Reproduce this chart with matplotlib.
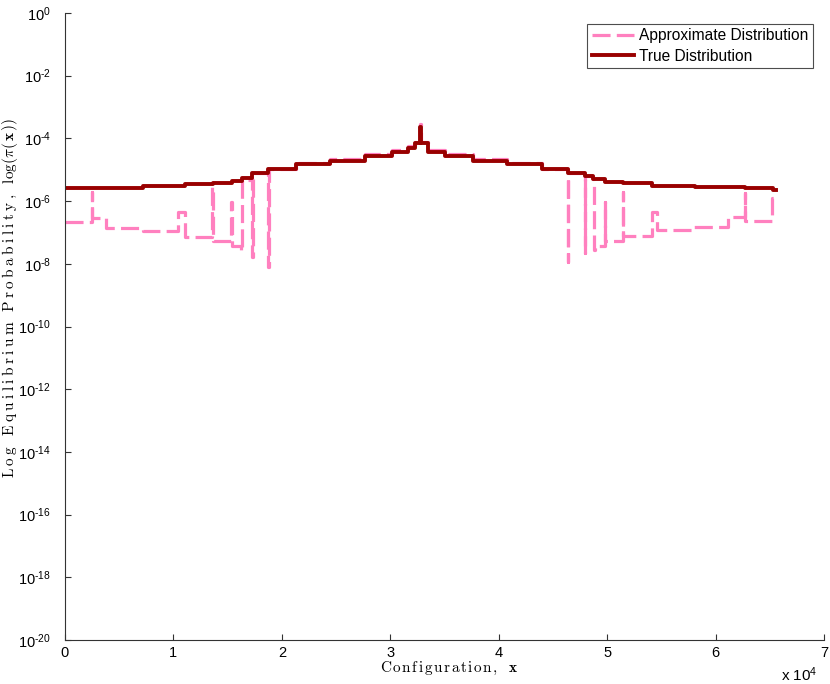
import numpy as np
import matplotlib
matplotlib.use("Agg")
import matplotlib.pyplot as plt
from matplotlib.ticker import FixedLocator, FuncFormatter, NullLocator

plt.rcParams['font.family'] = ['Liberation Sans', 'DejaVu Sans']
plt.rcParams['mathtext.fontset'] = 'custom'
plt.rcParams['mathtext.rm'] = 'Liberation Sans'
plt.rcParams['mathtext.it'] = 'Liberation Sans:italic'
plt.rcParams['mathtext.bf'] = 'Liberation Sans:bold'
plt.rcParams['lines.scale_dashes'] = False

# true distribution: bin edges (configuration index) and log10 probability per bin
true_edges = [0, 7194, 11067, 13650, 15400, 16320, 17250, 18720, 21300, 24440,
              27670, 30160, 31630, 32280, 32700, 32840, 33480, 35050, 37630,
              40760, 44000, 46390, 47960, 48700, 49800, 51460, 54140, 58100,
              62710, 65300, 65536]
true_log = [-5.57, -5.51, -5.45, -5.41, -5.35, -5.25, -5.11, -4.99, -4.83, -4.71,
            -4.56, -4.42, -4.30, -4.16, -3.64, -4.15, -4.42, -4.56, -4.71,
            -4.83, -4.98, -5.09, -5.20, -5.30, -5.38, -5.43, -5.51, -5.54,
            -5.57, -5.65]

# approximate distribution: bin edges and log10 probability per bin
approx_edges = [0, 2450, 2530, 3780, 7150, 10420, 11067, 13560, 13640, 15330,
                15410, 16190, 16300, 16320, 17150, 17250, 17320, 18720, 18790,
                21300, 24440, 27670, 30160, 31630, 32280, 32700, 32840, 33480,
                35050, 37630, 40760, 44000, 46350, 46430, 47920, 48000, 48700,
                48830, 48900, 49760, 49840, 51420, 51500, 54140, 54640, 57920,
                61100, 62670, 62750, 65200, 65536]
approx_log = [-6.66, -5.70, -6.53, -6.85, -6.95, -6.35, -7.14, -5.54, -7.27,
              -6.02, -7.43, -7.59, -5.33, -5.33, -5.25, -7.77, -5.11, -8.09,
              -4.99, -4.78, -4.66, -4.51, -4.37, -4.25, -4.12, -3.55,
              -4.10, -4.37, -4.51, -4.66, -4.79, -4.98, -7.93, -5.09, -7.67,
              -5.20, -5.30, -7.56, -7.43, -6.02, -7.27, -5.70, -7.11, -6.34,
              -6.92, -6.84, -6.52, -5.75, -6.63, -5.90]

labels = ['Approximate Distribution', 'True Distribution']
colors = ['#FF80BF', '#990000']
xtick_vals = [0, 10000, 20000, 30000, 40000, 50000, 60000, 70000]
xtick_labels = ['0', '1', '2', '3', '4', '5', '6', '7']
ytick_exps = list(range(-20, 1, 2))


def spaced(s, sp):
    # loose letter spacing, like the LaTeX labels of the original
    out = []
    for c in s:
        out.append(r'\ ' if c == ' ' else c)
    return (r'\hspace{%g}' % sp).join(out)


fig = plt.figure(figsize=(8.3, 6.84), dpi=100)
ax = fig.add_axes([0.0783, 0.0643, 0.9145, 0.9167])

ap_y = [10.0 ** v for v in approx_log] + [10.0 ** approx_log[-1]]
ax.step(approx_edges, ap_y, where='post', color=colors[0], lw=2.3,
        dashes=(13, 4.5), label=labels[0])
tr_y = [10.0 ** v for v in true_log] + [10.0 ** true_log[-1]]
ax.step(true_edges, tr_y, where='post', color=colors[1], lw=2.8,
        label=labels[1])

ax.set_yscale('log')
ax.set_xlim(0, 70000)
ax.set_ylim(1e-20, 1)
ax.yaxis.set_major_locator(FixedLocator([10.0 ** e for e in ytick_exps]))
ax.yaxis.set_minor_locator(NullLocator())
ax.yaxis.set_major_formatter(FuncFormatter(
    lambda v, p: r'$\mathregular{10^{\text{-}%d}}$' % abs(int(round(np.log10(v))))
    if v < 0.5 else r'$\mathregular{10^{0}}$'))
ax.set_xticks(xtick_vals)
ax.set_xticklabels(xtick_labels)

for s in ['top', 'right']:
    ax.spines[s].set_visible(False)
for s in ['left', 'bottom']:
    ax.spines[s].set_color('0.2')
    ax.spines[s].set_linewidth(0.8)
ax.tick_params(direction='in', length=4, width=0.8, color='0.2',
               labelsize=10.5)
ax.tick_params(axis='y', pad=10)
ax.tick_params(axis='x', pad=4)

ax.set_xlabel(r'$\mathrm{' + spaced('Configuration,', 0.12) + r'}\ \ \mathbf{x}$',
              fontsize=11, math_fontfamily='cm')
ax.xaxis.set_label_coords(0.507, -0.032)
ax.set_ylabel(r'$\mathrm{' + spaced('Log Equilibrium Probability,', 0.25)
              + r'}\ \ \log(\pi(\,\mathbf{x}\,))$',
              fontsize=11, math_fontfamily='cm', va='center')
ax.yaxis.set_label_coords(-0.0725, 0.545)
ax.text(0.992, -0.0654, r'x 10$^4$', transform=ax.transAxes, ha='right',
        va='baseline', fontsize=11)

leg = ax.legend(loc='upper right', bbox_to_anchor=(0.986, 0.983), fontsize=11.2,
                handlelength=2.7, borderpad=0.3, labelspacing=0.35,
                handletextpad=0.35, fancybox=False, framealpha=1,
                edgecolor='0.3', borderaxespad=0)
leg.get_frame().set_linewidth(0.8)

fig.savefig('out.png', dpi=100)
